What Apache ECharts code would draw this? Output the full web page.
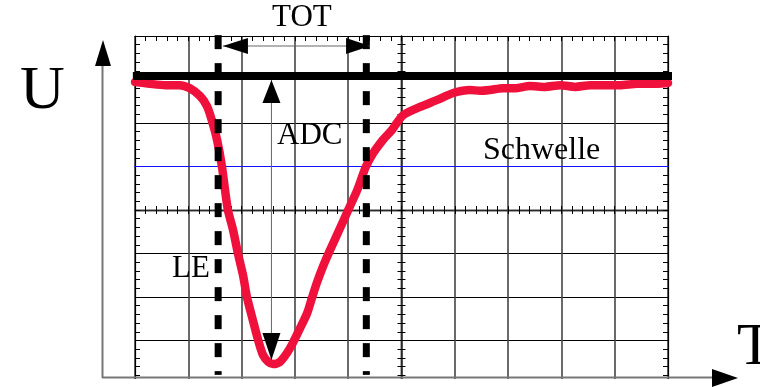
<!DOCTYPE html>
<html>
<head>
<meta charset="utf-8">
<script src="https://cdn.jsdelivr.net/npm/echarts@6/dist/echarts.min.js"></script>
<style>
  html, body { margin: 0; padding: 0; background: #fff; }
  #c { width: 760px; height: 387px; }
</style>
</head>
<body>
<div id="c"></div>
<script>
// Screen coordinates in oscilloscope divisions: time 0 and voltage 0 sit at the screen centre.
const timeDiv = [-5.00, -4.72, -4.43, -4.16, -3.97, -3.78, -3.65, -3.56, -3.46, -3.37,
  -3.26, -3.16, -3.07, -2.97, -2.90, -2.80, -2.69, -2.60, -2.50, -2.41,
  -2.28, -2.15, -2.04, -1.90, -1.77, -1.68, -1.59, -1.47, -1.34, -1.15,
  -1.00, -0.83, -0.67, -0.53, -0.35, -0.18, 0.03, 0.35, 0.67, 0.97,
  1.29, 1.47, 1.66, 1.90, 2.13, 2.41, 2.69, 2.98, 3.26, 3.54,
  3.78, 4.10, 4.42, 4.67, 5.00];
const signalDiv = [2.94, 2.90, 2.87, 2.87, 2.80, 2.62, 2.39, 2.07, 1.61, 1.01,
  0.02, -0.46, -0.99, -1.52, -2.00, -2.48, -2.99, -3.33, -3.49, -3.54,
  -3.49, -3.29, -3.06, -2.71, -2.37, -2.02, -1.68, -1.29, -0.92, -0.41,
  0.00, 0.46, 0.99, 1.31, 1.61, 1.84, 2.18, 2.37, 2.53, 2.69,
  2.76, 2.74, 2.76, 2.80, 2.80, 2.85, 2.83, 2.87, 2.83, 2.87,
  2.87, 2.87, 2.90, 2.90, 2.92];

const baselineLevel = 3.08;           // undisturbed signal level
const baselineSpan = [-5.04, 5.13];
const thresholdLevel = 1.0;           // discriminator threshold
const thresholdSpan = [-5.09, 5.28];
const crossingTimes = [-3.44, -0.66];  // leading edge / trailing edge
const markerSpan = [4.02, -3.79];      // vertical extent of the dashed markers
const totLevel = 3.77;                 // height of the time-over-threshold arrow
const totTips = [-3.35, -0.59];
const adcTime = -2.44;                 // amplitude arrow position
const adcTips = [2.99, -3.45];

const serif = '"Liberation Serif", "DejaVu Serif", serif';
const red = '#f0103c';

const chart = echarts.init(document.getElementById('c'), null, { renderer: 'canvas' });

const pulse = timeDiv.map((t, i) => [t, signalDiv[i]]);

const hidden = { show: false };
function borderAxis(extra) {
  return Object.assign({
    type: 'value', min: -5, max: 5, interval: 1,
    axisLabel: hidden,
    axisLine: { show: true, onZero: false, lineStyle: { color: '#000', width: 1.2 } },
    axisTick: { show: true, inside: true, length: 5, lineStyle: { color: '#000', width: 1 } },
    minorTick: { show: true, splitNumber: 5, length: 5, lineStyle: { color: '#000', width: 1 } },
    splitLine: hidden
  }, extra);
}
function centreAxis(inside, extra) {
  return borderAxis(Object.assign({
    axisLine: { show: true, onZero: true, onZeroAxisIndex: 0, lineStyle: { color: '#2a2a2a', width: 1.4 } },
    axisTick: { show: true, inside: inside, length: 4, lineStyle: { color: '#000' } },
    minorTick: { show: true, splitNumber: 5, length: 4, lineStyle: { color: '#000' } }
  }, extra));
}

const option = {
  animation: false,
  backgroundColor: '#fff',
  grid: { left: 135, right: 92, top: 36, bottom: 3, outerBoundsMode: 'none', containLabel: false },
  xAxis: [
    borderAxis({ position: 'top',
      splitLine: { show: true, lineStyle: { color: '#444', width: 1.6 } } }),
    centreAxis(true, { position: 'bottom' }),
    centreAxis(false, { position: 'bottom' })
  ],
  yAxis: [
    borderAxis({ min: -4, max: 4, position: 'left',
      splitLine: { show: true, lineStyle: { color: '#000', width: 1 } } }),
    borderAxis({ min: -4, max: 4, position: 'right' }),
    centreAxis(true, { min: -4, max: 4, position: 'left' }),
    centreAxis(false, { min: -4, max: 4, position: 'left' })
  ],
  series: [
    {
      name: 'Schwelle', type: 'line', clip: false, silent: true, z: 3,
      symbol: 'none',
      data: [[thresholdSpan[0], thresholdLevel], [thresholdSpan[1], thresholdLevel]],
      lineStyle: { color: '#1010ff', width: 1 }
    },
    {
      name: 'Signal', type: 'line', clip: false, silent: true, z: 4,
      symbol: 'none', smooth: 0.25,
      data: pulse,
      lineStyle: { color: red, width: 8.5, cap: 'round', join: 'round' }
    },
    {
      name: 'Grundlinie', type: 'line', clip: false, silent: true, z: 5,
      symbol: 'none',
      data: [[baselineSpan[0], baselineLevel], [baselineSpan[1], baselineLevel]],
      lineStyle: { color: '#000', width: 8, cap: 'butt' }
    },
    ...crossingTimes.map((t, i) => ({
      name: i === 0 ? 'LE' : 'TE', type: 'line', clip: false, silent: true, z: 6,
      symbol: 'none',
      data: [[t, markerSpan[0]], [t, markerSpan[1]]],
      lineStyle: { color: '#000', width: 7, type: [14, 14], cap: 'butt' }
    })),
    {
      name: 'TOT', type: 'line', silent: true, z: 7, symbol: 'none',
      data: [[totTips[0], totLevel], [totTips[1], totLevel]],
      lineStyle: { color: '#666', width: 1 }
    },
    {
      name: 'ADC', type: 'line', silent: true, z: 7, symbol: 'none',
      data: [[adcTime, adcTips[0]], [adcTime, adcTips[1]]],
      lineStyle: { color: '#666', width: 1 }
    }
  ],
  graphic: [
    // trim the lower edge of the screen onto the time axis
    { type: 'rect', z: 100, silent: true, shape: { x: 120, y: 379, width: 610, height: 10 }, style: { fill: '#fff' } },
    // time axis
    { type: 'line', z: 101, silent: true, shape: { x1: 102, y1: 377.5, x2: 714, y2: 377.5 }, style: { stroke: '#777', lineWidth: 2 } },
    { type: 'polygon', z: 101, silent: true, shape: { points: [[712, 369], [738, 378], [712, 387]] }, style: { fill: '#000' } },
    // voltage axis
    { type: 'line', z: 101, silent: true, shape: { x1: 102.5, y1: 60, x2: 102.5, y2: 378 }, style: { stroke: '#777', lineWidth: 2 } },
    { type: 'polygon', z: 101, silent: true, shape: { points: [[103, 40], [95, 66], [111, 66]] }, style: { fill: '#000' } },
    // labels
    { type: 'text', z: 102, silent: true, style: { text: 'U', x: 20, y: 92, font: '62px ' + serif, fill: '#000', align: 'left', verticalAlign: 'middle' } },
    { type: 'text', z: 102, silent: true, style: { text: 'T', x: 737, y: 348, font: '60px ' + serif, fill: '#000', align: 'left', verticalAlign: 'middle' } },
    { type: 'text', z: 102, silent: true, style: { text: 'TOT', x: 272, y: 18, font: '31px ' + serif, fill: '#000', align: 'left', verticalAlign: 'middle' } },
    { type: 'text', z: 102, silent: true, style: { text: 'ADC', x: 277, y: 136, font: '31px ' + serif, fill: '#000', align: 'left', verticalAlign: 'middle' } },
    { type: 'text', z: 102, silent: true, style: { text: 'LE', x: 172, y: 269, font: '31px ' + serif, fill: '#000', align: 'left', verticalAlign: 'middle' } },
    { type: 'text', z: 102, silent: true, style: { text: 'Schwelle', x: 483, y: 151, font: '32px ' + serif, fill: '#000', align: 'left', verticalAlign: 'middle' } }
  ]
};

chart.setOption(option);

// Arrow heads: placed at the arrow tips through the grid's own scale.
function arrowHead(tip, dir, len, half) {
  const p = chart.convertToPixel({ gridIndex: 0 }, tip);
  const bx = p[0] - dir[0] * len, by = p[1] - dir[1] * len;
  const nx = -dir[1] * half, ny = dir[0] * half;
  return {
    type: 'polygon', z: 103, silent: true,
    shape: { points: [[p[0], p[1]], [bx + nx, by + ny], [bx - nx, by - ny]] },
    style: { fill: '#000' }
  };
}
chart.setOption({
  graphic: option.graphic.concat([
    arrowHead([totTips[0], totLevel], [-1, 0], 25, 8),
    arrowHead([totTips[1], totLevel], [1, 0], 24, 8),
    arrowHead([adcTime, adcTips[0]], [0, -1], 23, 9),
    arrowHead([adcTime, adcTips[1]], [0, 1], 27, 9)
  ])
});
</script>
</body>
</html>
